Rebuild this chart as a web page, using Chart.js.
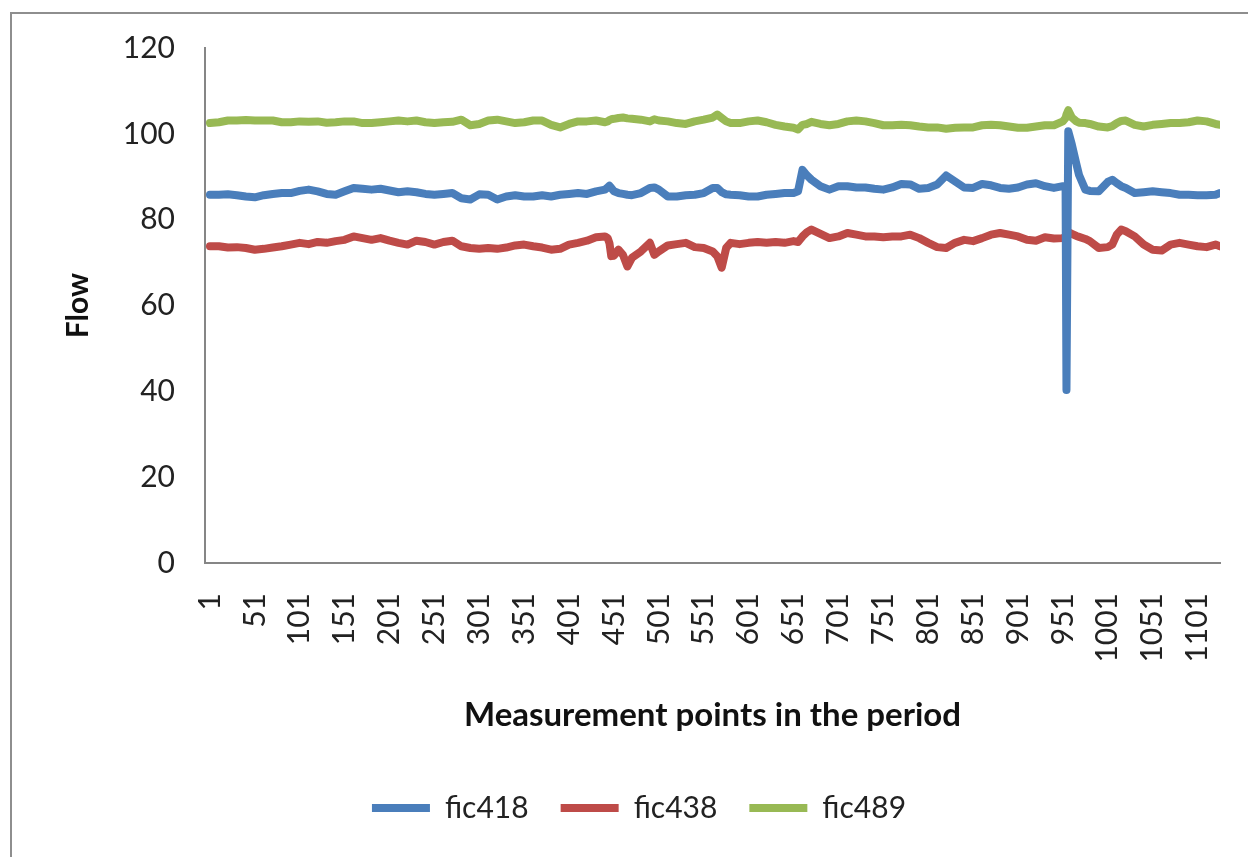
<!DOCTYPE html>
<html>
<head>
<meta charset="utf-8">
<title>Flow</title>
<script src="https://cdn.jsdelivr.net/npm/chart.js@4.4.1/dist/chart.umd.min.js"></script>
<style>
    html, body { margin: 0; padding: 0; background: #fff; overflow: hidden; }
    #frame { position: absolute; left: 10px; top: 12px; width: 1400px; height: 1000px; border: 2px solid #8e8e8e; }
    #flow-chart { position: absolute; left: 0; top: 0; }
</style>
</head>
<body>
<div id="frame"></div>
<canvas id="flow-chart" width="1248" height="857"></canvas>
<script>
const pointIndex = [
    1, 11, 21, 31, 41, 51, 61, 71, 81, 91, 101, 111, 121, 131, 141, 151, 161, 171, 181, 191,
    201, 211, 221, 231, 241, 251, 261, 271, 281, 291, 301, 311, 321, 331, 341, 351, 361, 371, 381, 391,
    401, 411, 421, 431, 441, 444, 446, 448, 451, 456, 461, 466, 471, 481, 491, 496, 501, 511, 521, 531,
    541, 551, 561, 566, 571, 576, 581, 591, 601, 611, 621, 631, 641, 651, 656, 661, 666, 671, 681, 691,
    701, 711, 721, 731, 741, 751, 761, 771, 781, 791, 801, 811, 821, 831, 841, 851, 861, 871, 881, 891,
    901, 911, 921, 931, 941, 951, 954, 955, 957, 961, 966, 969, 976, 981, 991, 1001, 1006, 1011, 1016, 1021,
    1031, 1041, 1051, 1061, 1071, 1081, 1091, 1101, 1111, 1121, 1126
];

const fic418 = [
    85.8, 85.8, 85.9, 85.7, 85.4, 85.2, 85.7, 86.0, 86.2, 86.2, 86.7, 87.0, 86.6, 86.0, 85.8, 86.6, 87.4, 87.2, 87.0, 87.2,
    86.8, 86.4, 86.6, 86.4, 86.0, 85.8, 86.0, 86.2, 85.0, 84.7, 85.9, 85.8, 84.7, 85.4, 85.7, 85.4, 85.4, 85.7, 85.4, 85.8,
    86.0, 86.2, 86.0, 86.6, 87.0, 87.5, 87.9, 87.4, 86.6, 86.2, 86.0, 85.8, 85.7, 86.2, 87.4, 87.5, 87.0, 85.4, 85.4, 85.7,
    85.8, 86.2, 87.4, 87.4, 86.4, 85.9, 85.8, 85.7, 85.4, 85.4, 85.8, 86.0, 86.2, 86.2, 86.6, 91.6, 90.3, 89.3, 87.8, 87.0,
    87.8, 87.8, 87.5, 87.5, 87.2, 87.0, 87.5, 88.3, 88.2, 87.2, 87.4, 88.2, 90.3, 88.9, 87.5, 87.4, 88.3, 88.0, 87.4, 87.2,
    87.5, 88.2, 88.5, 87.8, 87.4, 87.8, 87.8, 40.3, 100.6, 97.5, 93.0, 90.4, 87.0, 86.7, 86.6, 88.8, 89.3, 88.5, 87.8, 87.4,
    86.2, 86.4, 86.6, 86.4, 86.2, 85.8, 85.8, 85.7, 85.7, 85.8, 86.2
];

const fic438 = [
    73.8, 73.8, 73.5, 73.6, 73.4, 73.0, 73.2, 73.5, 73.8, 74.2, 74.6, 74.3, 74.8, 74.6, 75.0, 75.3, 76.1, 75.7, 75.3, 75.7,
    75.1, 74.6, 74.2, 75.1, 74.8, 74.2, 74.8, 75.1, 73.8, 73.4, 73.2, 73.4, 73.2, 73.5, 74.0, 74.2, 73.8, 73.5, 73.0, 73.2,
    74.2, 74.6, 75.1, 75.9, 76.1, 75.7, 74.5, 71.5, 71.6, 73.0, 71.8, 69.1, 71.1, 72.6, 74.6, 71.8, 72.6, 74.0, 74.3, 74.6,
    73.6, 73.4, 72.6, 71.5, 68.8, 73.4, 74.6, 74.3, 74.6, 74.8, 74.6, 74.8, 74.6, 75.0, 74.8, 76.1, 77.1, 77.7, 76.7, 75.7,
    76.1, 76.9, 76.5, 76.1, 76.1, 75.9, 76.1, 76.1, 76.5, 75.7, 74.6, 73.6, 73.4, 74.6, 75.3, 75.0, 75.7, 76.5, 76.9, 76.5,
    76.1, 75.3, 75.1, 75.9, 75.6, 75.7, 76.1, 76.5, 77.1, 76.7, 76.2, 76.0, 75.5, 75.0, 73.4, 73.6, 74.2, 76.5, 77.7, 77.3,
    76.1, 74.2, 73.0, 72.8, 74.2, 74.6, 74.2, 73.8, 73.6, 74.2, 73.8
];

const fic489 = [
    102.5, 102.7, 103.1, 103.1, 103.2, 103.1, 103.1, 103.1, 102.7, 102.7, 102.9, 102.8, 102.9, 102.6, 102.7, 102.9, 102.9, 102.5, 102.5, 102.7,
    102.9, 103.1, 102.9, 103.1, 102.7, 102.5, 102.7, 102.8, 103.3, 102.0, 102.3, 103.1, 103.3, 102.9, 102.5, 102.7, 103.1, 103.1, 102.1, 101.5,
    102.3, 102.9, 102.9, 103.1, 102.7, 102.9, 103.2, 103.4, 103.5, 103.7, 103.8, 103.6, 103.5, 103.3, 102.9, 103.4, 103.1, 102.9, 102.5, 102.3,
    102.9, 103.3, 103.8, 104.5, 103.7, 102.9, 102.5, 102.5, 102.9, 103.1, 102.7, 102.1, 101.7, 101.4, 101.0, 102.1, 102.3, 102.8, 102.3, 102.0,
    102.3, 102.9, 103.1, 102.9, 102.5, 102.0, 102.0, 102.1, 102.0, 101.7, 101.5, 101.5, 101.2, 101.4, 101.5, 101.5, 102.0, 102.1, 102.0, 101.7,
    101.4, 101.4, 101.7, 102.0, 102.0, 102.9, 103.7, 104.5, 105.5, 103.8, 102.9, 102.6, 102.5, 102.3, 101.7, 101.5, 101.8, 102.5, 103.0, 103.1,
    102.1, 101.7, 102.1, 102.3, 102.5, 102.5, 102.7, 103.1, 102.9, 102.3, 102.1
];

// Category labels shown on the x axis
const xTickValues = [1, 51, 101, 151, 201, 251, 301, 351, 401, 451, 501, 551, 601, 651, 701, 751, 801, 851, 901, 951, 1001, 1051, 1101];

const seriesNames = ["fic418", "fic438", "fic489"];
const seriesColors = ["#4A7EBB", "#BE4B48", "#98B954"];

const fontFamily = "Lato, 'Open Sans', sans-serif";

function toPoints(values) {
    return values.map((v, i) => ({ x: pointIndex[i], y: v }));
}

const ctx = document.getElementById("flow-chart").getContext("2d");

new Chart(ctx, {
    type: "line",
    data: {
        datasets: [fic418, fic438, fic489].map((values, i) => ({
            label: seriesNames[i],
            data: toPoints(values),
            borderColor: seriesColors[i],
            backgroundColor: seriesColors[i],
            fill: false
        }))
    },
    options: {
        responsive: false,
        animation: false,
        devicePixelRatio: 1,
        events: [],
        layout: {
            padding: { left: 58, top: 48, right: 28, bottom: 24 }
        },
        elements: {
            point: { radius: 0 },
            line: { borderWidth: 8, tension: 0, borderCapStyle: "round", borderJoinStyle: "round" }
        },
        scales: {
            x: {
                type: "linear",
                min: -4.5,
                max: 1126,
                afterBuildTicks: axis => {
                    axis.ticks = xTickValues.map(v => ({ value: v }));
                },
                afterFit: axis => {
                    // fixed height, and no extra room asked for the rotated end labels
                    axis.height = 198;
                    axis.paddingLeft = 0;
                    axis.paddingRight = 0;
                },
                grid: { display: false },
                border: { display: true, color: "#868686", width: 2 },
                ticks: {
                    autoSkip: false,
                    minRotation: 90,
                    maxRotation: 90,
                    padding: 22,
                    color: "#222",
                    font: { family: fontFamily, size: 30 },
                    callback: value => String(value)
                },
                title: {
                    display: true,
                    text: "Measurement points in the period",
                    color: "#111",
                    font: { family: fontFamily, size: 33, weight: "bold" },
                    padding: { top: 0, bottom: 26 }
                }
            },
            y: {
                min: 0,
                max: 120,
                afterFit: axis => {
                    axis.width = 147;
                },
                grid: { display: false },
                border: { display: true, color: "#868686", width: 2 },
                ticks: {
                    stepSize: 20,
                    padding: 22,
                    color: "#222",
                    font: { family: fontFamily, size: 30 }
                },
                title: {
                    display: true,
                    text: "Flow",
                    color: "#111",
                    font: { family: fontFamily, size: 30, weight: "bold" },
                    padding: { top: 2, bottom: 0 }
                }
            }
        },
        plugins: {
            tooltip: { enabled: false },
            legend: {
                position: "bottom",
                labels: {
                    boxWidth: 58,
                    boxHeight: 8,
                    padding: 32,
                    color: "#222",
                    font: { family: fontFamily, size: 30 },
                    generateLabels: chart => Chart.defaults.plugins.legend.labels.generateLabels(chart)
                        .map(item => Object.assign(item, { fillStyle: item.strokeStyle, lineWidth: 0 }))
                }
            }
        }
    }
});
</script>
</body>
</html>
